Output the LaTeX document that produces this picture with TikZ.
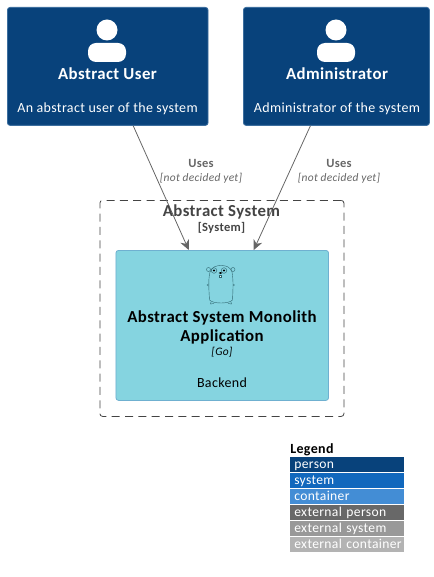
\documentclass[tikz,border=0pt]{standalone}
\usepackage{fontspec}
\setmainfont[LetterSpace=2.5]{Carlito}
\usetikzlibrary{arrows.meta, positioning}
\definecolor{personblue}{HTML}{08427B}
\definecolor{personedge}{HTML}{3C6E9E}
\definecolor{systemblue}{HTML}{1168BD}
\definecolor{containerblue}{HTML}{438DD5}
\definecolor{extperson}{HTML}{686868}
\definecolor{extsystem}{HTML}{999999}
\definecolor{extcontainer}{HTML}{B3B3B3}
\definecolor{appcyan}{HTML}{85D4E0}
\definecolor{appedge}{HTML}{6FB0D0}
\definecolor{linegrey}{HTML}{666666}
\definecolor{boundgrey}{HTML}{444444}
\definecolor{gopherline}{HTML}{2F6670}
\tikzset{
    personbox/.style={draw=personedge, fill=personblue, rounded corners=2pt, line width=0.6pt, anchor=north west, inner sep=0pt},
    legendrow/.style={fill=#1, text=white, minimum width=85.5pt, minimum height=11pt, inner sep=0pt, anchor=north west, font=\fontsize{10.2}{10.2}\selectfont, text width=79pt, align=left, outer sep=0pt},
    legendrow/.default=personblue
}
\begin{document}
\begin{tikzpicture}[
    x=0.75pt, y=-0.75pt,
    txt/.style={inner sep=0pt, align=center, anchor=base},
    nametxt/.style={txt, font=\fontsize{12.6}{12.6}\selectfont\bfseries},
    desctxt/.style={txt, font=\fontsize{10.5}{10.5}\selectfont},
    usestxt/.style={txt, text=linegrey, font=\fontsize{9.4}{9.4}\selectfont\bfseries},
    techtxt/.style={txt, font=\fontsize{8.6}{8.6}\selectfont\itshape},
    uses/.style={->, >={Stealth[length=7.5pt, width=7pt]}, draw=linegrey, line width=0.6pt},
    gopher/.style={draw=gopherline, line width=0.3pt}
]
\useasboundingbox (0,0) rectangle (434,577);

% Persons
\node[personbox, minimum width=150.5pt, minimum height=88.5pt] (user) at (7,7) {};
\node[personbox, minimum width=139.5pt, minimum height=88.5pt] (admin) at (243,7) {};
\foreach \cx in {107, 336} {
    \fill[white] (\cx,30) circle (10.5);
    \fill[white, rounded corners=6pt] (\cx-19,62) -- (\cx-19,43) -- (\cx+19,43) -- (\cx+19,62) -- cycle;
}
\node[nametxt, text=white] (usrname) at (107.5,79.5) {Abstract User};
\node[desctxt, text=white] (usrdesc) at (107.5,112.5) {An abstract user of the system};
\node[nametxt, text=white] (admname) at (337,79.5) {Administrator};
\node[desctxt, text=white] (admdesc) at (337,112.5) {Administrator of the system};

% System boundary
\node[draw=boundgrey, dash pattern=on 6pt off 4pt, rounded corners=2pt, line width=0.6pt, minimum width=183pt, minimum height=162pt, inner sep=0pt, anchor=north west] (sysbound) at (99.5,200) {};

% Container
\node[draw=appedge, fill=appcyan, rounded corners=2pt, line width=0.6pt, minimum width=159.5pt, minimum height=112.5pt, inner sep=0pt, anchor=north west] (app) at (115.5,250) {};

% Arrows
\draw[uses] ([xshift=25.5*0.75pt]user.south) -- ([xshift=-33.5*0.75pt]app.north);
\draw[uses] ([xshift=-26*0.75pt]admin.south) -- ([xshift=31.5*0.75pt]app.north);

% Arrow labels
\node[usestxt] (uses1) at (201,167.5) {Uses};
\node[techtxt, text=linegrey] (tech1) at (201,181) {[not decided yet]};
\node[usestxt] (uses2) at (339,167.5) {Uses};
\node[techtxt, text=linegrey] (tech2) at (339,181) {[not decided yet]};

% Boundary labels
\node[nametxt, text=boundgrey] (sysname) at (221.5,216) {Abstract System};
\node[usestxt, text=boundgrey] (systype) at (221.5,231) {[System]};

% Gopher
\filldraw[gopher, fill=appcyan] (208.5,269.5) circle (2) (233,269.5) circle (2);
\draw[gopher, fill=appcyan] (209.5,300) .. controls (208.5,285) and (208.5,278) .. (210,272)
    .. controls (212,267) and (216,265.5) .. (221,265.5)
    .. controls (226,265.5) and (230.5,267) .. (232,272)
    .. controls (233.5,280) and (233,290) .. (232.5,300)
    .. controls (229,304) and (213,304) .. (209.5,300) -- cycle;
\draw[gopher] (208.5,284) -- (207,285) -- (208.5,286) (233,284) -- (234.5,285) -- (233,286);
\draw[gopher] (211,302) -- (210.5,304) -- (214,303.5) (231,302) -- (231.5,304) -- (228,303.5);
\draw[gopher] (214,270.5) circle (2.8) (224,270.5) circle (2.8);
\fill[black] (214,270.5) circle (1.2) (224,270.5) circle (1.2);
\fill[black] (220.5,273) ellipse (1.8 and 1);
\draw[gopher, fill=white] (219.5,275) rectangle (221.5,277.5);

% Application text
\node[nametxt, text=black] (appname1) at (222,322) {Abstract System Monolith};
\node[nametxt, text=black] (appname2) at (222,341) {Application};
\node[techtxt, text=black] (apptech) at (222,355) {[Go]};
\node[desctxt, text=black] (appdesc) at (222,387) {Backend};

% Legend
\node[txt, anchor=base west, font=\fontsize{10.5}{10.5}\selectfont\bfseries] (legendlbl) at (290,453) {Legend};
\foreach \i/\col/\lbl in {0/personblue/person, 1/systemblue/system, 2/containerblue/container,
    3/extperson/external person, 4/extsystem/external system, 5/extcontainer/external container} {
    \node[legendrow=\col] (row\i) at (290,457+16*\i) {\raisebox{-3.4pt}[0pt][0pt]{\lbl}};
}
\end{tikzpicture}
\end{document}
